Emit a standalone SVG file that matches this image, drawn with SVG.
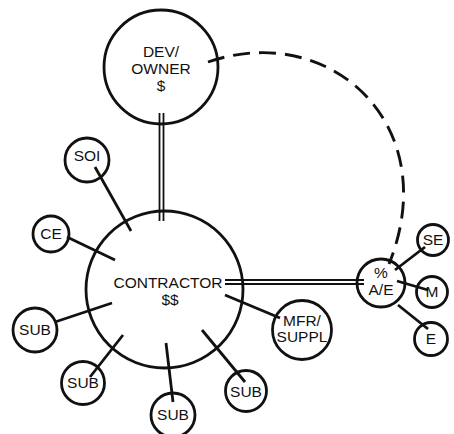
<svg xmlns="http://www.w3.org/2000/svg" width="454" height="434" viewBox="0 0 454 434">
<style>
.n{fill:none;stroke:#111;stroke-width:2.8}
.t{font-family:"Liberation Sans",Arial,sans-serif;font-size:15.5px;fill:#111;text-anchor:middle}
.l{stroke:#111;stroke-width:2.8;fill:none;stroke-linecap:butt}
.d{stroke:#111;stroke-width:1.8;fill:none}
.dash{stroke:#111;stroke-width:2.9;fill:none;stroke-dasharray:17 9}
</style>
<rect width="454" height="434" fill="#fff"/>
<g id="connectors">
<path class="dash" d="M208,62 C330,20 445,125 389,264"/>
<line class="d" x1="159.5" y1="113" x2="159.5" y2="221"/>
<line class="d" x1="163.5" y1="113" x2="163.5" y2="221"/>
<line class="d" x1="225" y1="280" x2="364" y2="280"/>
<line class="d" x1="225" y1="284" x2="364" y2="284"/>
<line class="l" x1="95" y1="167" x2="131" y2="231"/>
<line class="l" x1="67" y1="237" x2="115" y2="260"/>
<line class="l" x1="55" y1="322" x2="112" y2="303"/>
<line class="l" x1="90" y1="377" x2="123" y2="335"/>
<line class="l" x1="166" y1="343" x2="173" y2="402"/>
<line class="l" x1="202" y1="330" x2="245" y2="382"/>
<line class="l" x1="225" y1="295" x2="280" y2="318"/>
<line class="l" x1="425" y1="247" x2="395" y2="270"/>
<line class="l" x1="397" y1="281" x2="428" y2="290"/>
<line class="l" x1="398" y1="305" x2="428" y2="329"/>
</g>
<g id="dev-owner">
<circle class="n" cx="161" cy="67" r="57"/>
<text class="t" x="161" y="57">DEV/</text>
<text class="t" x="161" y="74">OWNER</text>
<text class="t" x="161" y="91">$</text>
</g>
<g id="contractor">
<circle class="n" cx="164.5" cy="289.5" r="78.5"/>
<text class="t" x="168" y="288">CONTRACTOR</text>
<text class="t" x="170" y="305">$$</text>
</g>
<g id="soi">
<circle class="n" cx="87" cy="160" r="22"/>
<text class="t" x="87" y="161">SOI</text>
</g>
<g id="ce">
<circle class="n" cx="51" cy="234" r="18"/>
<text class="t" x="51" y="239">CE</text>
</g>
<g id="sub1">
<circle class="n" cx="35" cy="330" r="22"/>
<text class="t" x="35" y="335">SUB</text>
</g>
<g id="sub2">
<circle class="n" cx="83" cy="383" r="21.5"/>
<text class="t" x="83" y="388">SUB</text>
</g>
<g id="sub3">
<circle class="n" cx="173" cy="415" r="22"/>
<text class="t" x="173" y="420">SUB</text>
</g>
<g id="sub4">
<circle class="n" cx="246" cy="391" r="20.5"/>
<text class="t" x="246" y="397">SUB</text>
</g>
<g id="mfr-suppl">
<circle class="n" cx="302" cy="330" r="29.5"/>
<text class="t" x="302" y="326">MFR/</text>
<text class="t" x="302" y="342">SUPPL</text>
</g>
<g id="ae">
<circle class="n" cx="381" cy="283" r="24"/>
<text class="t" x="381" y="278">%</text>
<text class="t" x="381" y="295">A/E</text>
</g>
<g id="se">
<circle class="n" cx="433" cy="240" r="15.5"/>
<text class="t" x="433" y="245">SE</text>
</g>
<g id="m">
<circle class="n" cx="432" cy="292" r="15.5"/>
<text class="t" x="432" y="297">M</text>
</g>
<g id="e">
<circle class="n" cx="431" cy="339" r="16.5"/>
<text class="t" x="431" y="344">E</text>
</g>
</svg>
